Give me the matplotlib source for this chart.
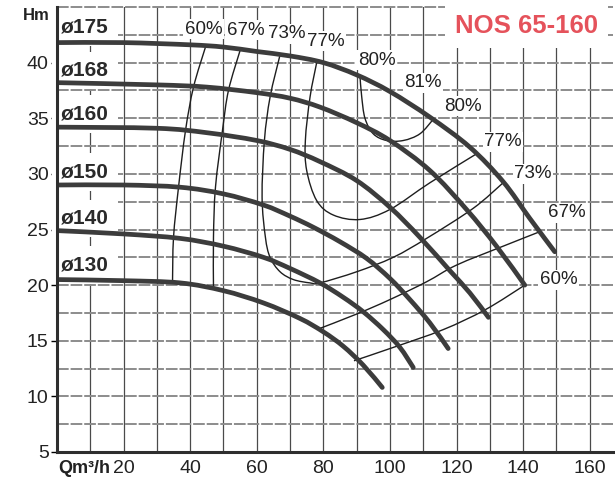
import numpy as np
import matplotlib
matplotlib.use("Agg")
import matplotlib.pyplot as plt
from matplotlib.path import Path
from matplotlib.patches import PathPatch
from matplotlib import font_manager

# Impeller curves: flow Q (m3/h) vs head H (m)
q175 = [0, 20, 40, 50, 60, 70, 80, 90, 100, 112, 124, 134, 142, 149.5]
h175 = [41.8, 41.8, 41.6, 41.4, 41.0, 40.6, 40.0, 38.9, 37.4, 35.1, 32.4, 29.3, 26.0, 23.0]
q168 = [0, 30, 45, 60, 70, 79, 90, 100, 112, 123, 132, 140.5]
h168 = [38.2, 38.0, 37.8, 37.3, 36.8, 36.0, 34.6, 33.0, 30.3, 26.8, 23.5, 20.0]
q160 = [0, 30, 45, 60, 70, 79, 90, 100, 109, 118, 124, 129.6]
h160 = [34.2, 34.1, 33.7, 33.0, 32.2, 31.1, 29.4, 27.0, 24.3, 21.3, 19.3, 17.1]
q150 = [0, 20, 37, 50, 62, 70, 77, 85, 93, 100, 106, 112, 117.5]
h150 = [29.0, 29.0, 28.8, 28.2, 27.2, 26.2, 25.2, 23.9, 22.4, 20.6, 18.7, 16.6, 14.3]
q140 = [0, 20, 37, 50, 62, 70, 79, 86, 92, 98, 103, 107]
h140 = [24.9, 24.6, 24.2, 23.5, 22.5, 21.5, 20.2, 18.9, 17.6, 16.0, 14.4, 12.6]
q130 = [0, 20, 37, 50, 62, 73, 80, 86, 92, 97.7]
h130 = [20.5, 20.4, 20.2, 19.5, 18.4, 17.0, 15.8, 14.5, 12.8, 10.8]

impellers = ["ø175", "ø168", "ø160", "ø150", "ø140", "ø130"]
impeller_label_h = [43.2, 39.3, 35.4, 30.2, 26.0, 21.8]

# Iso-efficiency lines
e60a_q = [44.6, 41.0, 38.6, 36.5, 35.0, 34.7]
e60a_h = [41.4, 37.8, 33.9, 28.8, 24.3, 20.3]
e67a_q = [55.0, 51.5, 49.7, 47.6, 47.0, 47.0]
e67a_h = [41.1, 37.5, 33.9, 28.8, 24.3, 19.9]
e73_q = [67, 64, 62.3, 61.6, 62.6, 64, 67, 71, 76, 79, 90, 101, 111, 125, 134]
e73_h = [40.7, 36.9, 33.0, 27.9, 24.3, 22.5, 21.2, 20.5, 20.2, 20.2, 21.2, 22.5, 24.2, 26.9, 29.2]
e77_q = [78, 76, 74.6, 75, 78, 83, 91, 100, 112, 126]
e77_h = [40.0, 36.9, 33.0, 30.3, 27.6, 26.3, 25.9, 26.8, 29.2, 31.8]
e80_q = [91, 91.5, 92.5, 95, 99, 104, 109, 113]
e80_h = [38.8, 37.0, 35.0, 33.6, 33.0, 33.0, 33.6, 34.9]
e67b_q = [78, 90, 100, 111, 120, 134, 145]
e67b_h = [16.0, 17.4, 18.7, 20.3, 21.8, 23.5, 24.8]
e60b_q = [89.2, 101, 116, 128.7, 140.5]
e60b_h = [13.2, 14.4, 16.0, 17.8, 20.0]

eff_labels = ["60%", "67%", "73%", "77%", "80%", "81%", "80%", "77%", "73%", "67%", "60%"]
eff_label_q = [44, 56.6, 69, 80.6, 96, 110, 122, 134, 143, 153, 150.6]
eff_label_h = [43.0, 42.9, 42.6, 41.9, 40.2, 38.2, 36.1, 32.9, 30.0, 26.5, 20.5]

curve_color = "#3c3c3c"
title_color = "#e5525b"


def smooth_path(q, h):
    """Catmull-Rom through the points, written as cubic Bezier segments."""
    p = np.column_stack([q, h]).astype(float)
    ext = np.vstack([p[0], p, p[-1]])
    verts = [p[0]]
    codes = [Path.MOVETO]
    for i in range(1, len(ext) - 2):
        c1 = ext[i] + (ext[i + 1] - ext[i - 1]) / 6
        c2 = ext[i + 1] - (ext[i + 2] - ext[i]) / 6
        verts += [c1, c2, ext[i + 1]]
        codes += [Path.CURVE4] * 3
    return Path(verts, codes)


def draw_curve(ax, q, h, **kw):
    ax.add_patch(PathPatch(smooth_path(q, h), fill=False, **kw))


installed = {f.name for f in font_manager.fontManager.ttflist}
plt.rcParams["font.family"] = ["Liberation Sans", "DejaVu Sans"]

fig = plt.figure(figsize=(6.15, 4.8), dpi=100)
ax = fig.add_axes([57 / 615, 28 / 480, 556 / 615, 445 / 480])
ax.set_xlim(0, 167)
ax.set_ylim(5, 45)

# grid: thin dark verticals, grey dashed horizontals
for x in np.arange(10, 161, 10):
    ax.axvline(x, color="#4a4a4a", lw=0.9, zorder=1)
for y in np.arange(7.5, 45.1, 2.5):
    ax.axhline(y, color="#8c8c8c", lw=1.4, ls=(0, (6, 1)), zorder=1, clip_on=False)

qs = [q175, q168, q160, q150, q140, q130]
hs = [h175, h168, h160, h150, h140, h130]
for q, h in zip(qs, hs):
    draw_curve(ax, q, h, ec=curve_color, lw=3.4, capstyle="round",
               joinstyle="round", zorder=4)

for q, h in [(e60a_q, e60a_h), (e67a_q, e67a_h), (e73_q, e73_h), (e77_q, e77_h),
             (e80_q, e80_h), (e67b_q, e67b_h), (e60b_q, e60b_h)]:
    draw_curve(ax, q, h, ec="#1e1e1e", lw=1.0, zorder=3)

for name, y in zip(impellers, impeller_label_h):
    ax.text(1.2, y, name, fontsize=15, fontweight="bold", color="#2a2a2a",
            ha="left", va="center", zorder=3.5,
            bbox=dict(boxstyle="square,pad=0.45", fc="white", ec="none"))

for lab, x, y in zip(eff_labels, eff_label_q, eff_label_h):
    ax.text(x, y, lab, fontsize=13.5, color="#222222", ha="center", va="center",
            zorder=3.5, bbox=dict(boxstyle="square,pad=0.08", fc="white", ec="none"))

if "Liberation Sans Narrow" in installed:
    ax.text(141, 43.3, "NOS 65-160", fontsize=22, fontweight="bold", color=title_color,
            family=["Liberation Sans Narrow", "Liberation Sans"], ha="center", va="center",
            zorder=3.5, bbox=dict(boxstyle="square,pad=0.3", fc="white", ec="none"))
else:
    ax.text(141, 43.3, "NOS 65-160", fontsize=18.5, fontweight="bold", color=title_color,
            ha="center", va="center", zorder=3.5,
            bbox=dict(boxstyle="square,pad=0.4", fc="white", ec="none"))

for side in ["top", "right"]:
    ax.spines[side].set_visible(False)
for side in ["left", "bottom"]:
    ax.spines[side].set_linewidth(2.2)
    ax.spines[side].set_color("#2e2e2e")
    ax.spines[side].set_zorder(5)

ax.set_xticks(np.arange(20, 161, 20))
ax.set_yticks(np.arange(5, 41, 5))
ax.tick_params(axis="x", length=0, pad=6, labelsize=14, labelcolor="#222222")
ax.tick_params(axis="y", length=4, width=1, pad=2, labelsize=14, labelcolor="#222222")

ax.annotate("Qm³/h", xy=(0, 5), xytext=(1, -6), textcoords="offset points",
            ha="left", va="top", fontsize=13, fontweight="bold", color="#222222",
            annotation_clip=False)
fig.text(50 / 615, 1 - 15 / 480, "Hm", ha="right", va="center",
         fontsize=12, fontweight="bold", color="#222222")

fig.savefig("out.png", dpi=100)
